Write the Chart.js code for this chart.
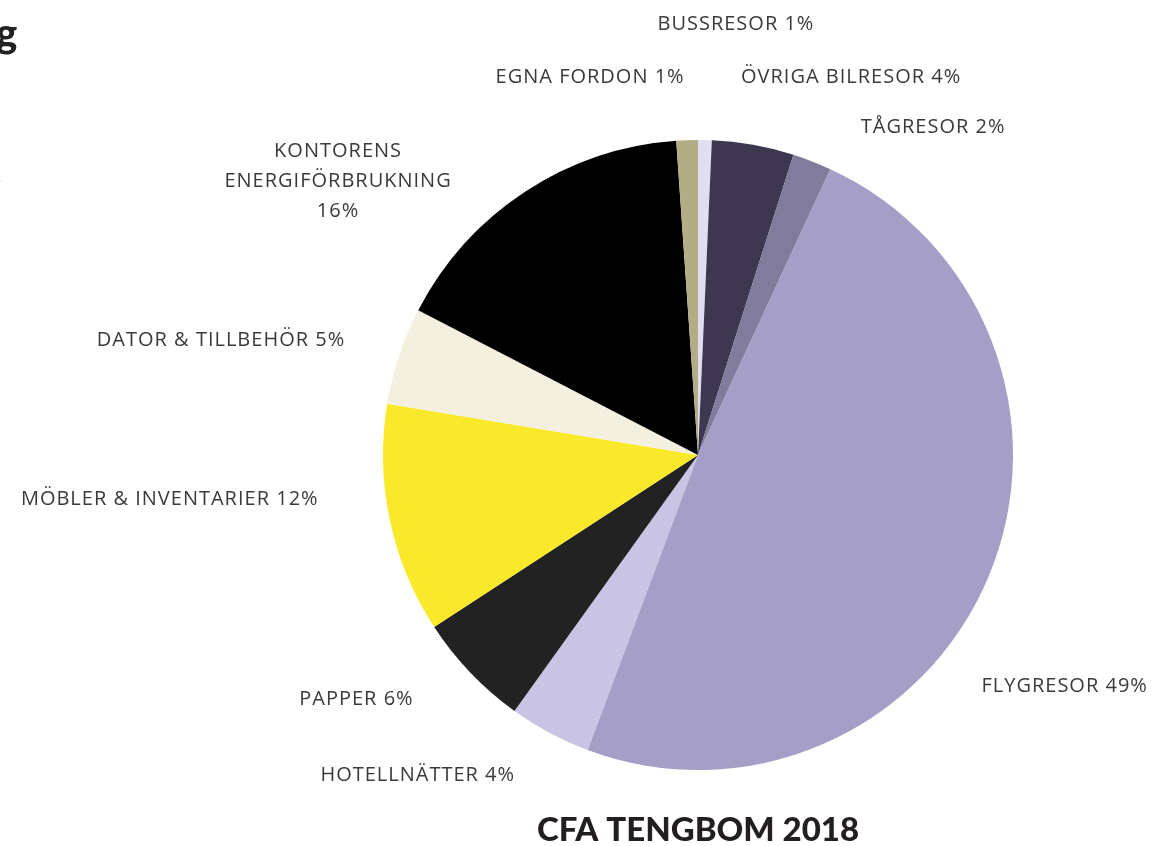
<!DOCTYPE html>
<html>
<head>
<meta charset="utf-8">
<script src="https://cdn.jsdelivr.net/npm/chart.js@4.4.0/dist/chart.umd.min.js"></script>
<style>
  html, body { margin: 0; padding: 0; background: #ffffff; width: 1153px; height: 846px; overflow: hidden; }
  #wrap { position: relative; width: 1153px; height: 846px; }
  canvas { position: absolute; left: 0; top: 0; }
  .frag { position: absolute; color: #222; font-family: Lato, sans-serif; }
</style>
</head>
<body>
<div id="wrap">
  <canvas id="c" width="1153" height="846"></canvas>
  <div class="frag" style="left:-4px; top:8px; font-size:40px; font-weight:900;">g</div>
  <div class="frag" style="left:-3px; top:164px; font-size:18px;">.</div>
  <div class="frag" style="left:-4px; top:704px; font-size:18px;">.</div>
</div>
<script>
// ---- data ----
const categories = [
  "BUSSRESOR 1%",
  "ÖVRIGA BILRESOR 4%",
  "TÅGRESOR 2%",
  "FLYGRESOR 49%",
  "HOTELLNÄTTER 4%",
  "PAPPER 6%",
  "MÖBLER & INVENTARIER 12%",
  "DATOR & TILLBEHÖR 5%",
  "KONTORENS\nENERGIFÖRBRUKNING\n16%",
  "EGNA FORDON 1%"
];
const shares = [0.7, 4.2, 2.0, 48.8, 4.2, 5.9, 11.8, 5.0, 16.3, 1.1];
const chartTitle = "CFA TENGBOM 2018";

// ---- style ----
const sliceColors = [
  "#e1def3", "#3d384f", "#827c9c", "#a59ec7", "#c9c3e4",
  "#222222", "#fae92b", "#f4f0df", "#000000", "#b2ad84"
];
// label offsets (px) relative to the outer edge of each slice at its mid angle
const labelOffsets = [
  [31, -116], [98, -68], [121, -34], [76, 110], [-132, 42],
  [-114, 27], [-220, -21], [-178, -15], [-187, -10], [-97, -63]
];
const labelFont = "20px 'Open Sans', Lato, sans-serif";
const labelColor = "#3a3a3a";
const labelLineHeight = 30;

const labelPlugin = {
  id: 'outerLabels',
  afterDraw(chart) {
    const ctx = chart.ctx;
    const meta = chart.getDatasetMeta(0);
    ctx.save();
    ctx.font = labelFont;
    ctx.letterSpacing = "1px";
    ctx.fillStyle = labelColor;
    ctx.textAlign = 'center';
    ctx.textBaseline = 'middle';
    meta.data.forEach((arc, i) => {
      const p = arc.getProps(['x', 'y', 'startAngle', 'endAngle', 'outerRadius'], true);
      const mid = (p.startAngle + p.endAngle) / 2;
      const ax = p.x + Math.cos(mid) * p.outerRadius + labelOffsets[i][0];
      const ay = p.y + Math.sin(mid) * p.outerRadius + labelOffsets[i][1];
      const lines = chart.data.labels[i].split("\n");
      const y0 = ay - (lines.length - 1) * labelLineHeight / 2;
      lines.forEach((ln, k) => ctx.fillText(ln, ax, y0 + k * labelLineHeight));
    });
    // title under the pie
    const ca = chart.chartArea;
    ctx.letterSpacing = "0px";
    ctx.font = "900 33px Lato, sans-serif";
    ctx.fillStyle = "#231f20";
    ctx.fillText(chartTitle, (ca.left + ca.right) / 2, 830);
    ctx.restore();
  }
};

new Chart(document.getElementById('c'), {
  type: 'pie',
  data: {
    labels: categories,
    datasets: [{
      data: shares,
      backgroundColor: sliceColors,
      borderWidth: 0
    }]
  },
  options: {
    responsive: false,
    animation: false,
    layout: { padding: { left: 383, right: 140, top: 140, bottom: 76 } },
    plugins: {
      legend: { display: false },
      tooltip: { enabled: false },
      title: { display: false }
    }
  },
  plugins: [labelPlugin]
});
</script>
</body>
</html>
